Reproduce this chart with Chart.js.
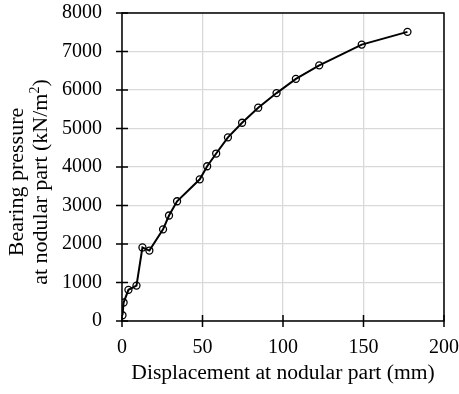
<!DOCTYPE html>
<html>
<head>
<meta charset="utf-8">
<script src="https://cdn.jsdelivr.net/npm/chart.js@4"></script>
<style>
  html, body { margin: 0; padding: 0; background: #fff; }
  #wrap { width: 459px; height: 394px; }
</style>
</head>
<body>
<div id="wrap"><canvas id="myChart" width="459" height="394"></canvas></div>
<script>
// displacement (mm) and bearing pressure (kN/m2)
const displacement = [0.3, 1, 4, 9, 12.7, 17, 25.5, 29.2, 34.2, 48.3, 52.9, 58.5, 65.8, 74.6, 84.6, 96, 108, 122.5, 148.9, 177.3];
const pressure = [150, 480, 810, 920, 1910, 1830, 2380, 2740, 3110, 3680, 4020, 4350, 4770, 5150, 5540, 5920, 6290, 6640, 7180, 7510];
const xTicks = [0, 50, 100, 150, 200];
const yTicks = [0, 1000, 2000, 3000, 4000, 5000, 6000, 7000, 8000];

const fontFamily = "'Liberation Serif', 'Times New Roman', serif";

const points = displacement.map((d, i) => ({x: d, y: pressure[i]}));

// box round the plot and ticks that cross the axes
const frame = {
  id: 'frame',
  afterDraw(chart) {
    const {ctx, chartArea: a, scales} = chart;
    ctx.save();
    ctx.strokeStyle = '#000';
    ctx.lineWidth = 1.5;
    ctx.strokeRect(a.left, a.top, a.right - a.left, a.bottom - a.top);
    ctx.beginPath();
    xTicks.forEach(v => {
      const px = scales.x.getPixelForValue(v);
      ctx.moveTo(px, a.bottom - 6);
      ctx.lineTo(px, a.bottom + 6);
    });
    yTicks.forEach(v => {
      const py = scales.y.getPixelForValue(v);
      ctx.moveTo(a.left - 6, py);
      ctx.lineTo(a.left + 6, py);
    });
    ctx.stroke();
    ctx.restore();
  }
};

// y axis title, two lines, with a real superscript 2
const yTitle = {
  id: 'yTitle',
  afterDraw(chart) {
    const ctx = chart.ctx;
    const cy = 182;
    ctx.save();
    ctx.fillStyle = '#000';
    ctx.textBaseline = 'alphabetic';
    ctx.font = '22px ' + fontFamily;

    // first line
    ctx.save();
    ctx.translate(23, cy);
    ctx.rotate(-Math.PI / 2);
    ctx.textAlign = 'center';
    ctx.fillText('Bearing pressure', 0, 0);
    ctx.restore();

    // second line
    const a = 'at nodular part (kN/m', b = '2', c = ')';
    ctx.save();
    ctx.translate(47, cy);
    ctx.rotate(-Math.PI / 2);
    ctx.textAlign = 'left';
    const wa = ctx.measureText(a).width;
    const wc = ctx.measureText(c).width;
    ctx.font = '14px ' + fontFamily;
    const wb = ctx.measureText(b).width;
    let x = -(wa + wb + wc) / 2;
    ctx.font = '22px ' + fontFamily;
    ctx.fillText(a, x, 0);
    x += wa;
    ctx.font = '14px ' + fontFamily;
    ctx.fillText(b, x, -8);
    x += wb;
    ctx.font = '22px ' + fontFamily;
    ctx.fillText(c, x, 0);
    ctx.restore();

    ctx.restore();
  }
};

const ctx = document.getElementById('myChart').getContext('2d');
new Chart(ctx, {
  type: 'scatter',
  data: {
    datasets: [{
      data: points,
      showLine: true,
      borderColor: '#000',
      borderWidth: 2,
      pointRadius: 3.5,
      pointBorderWidth: 1.3,
      pointBackgroundColor: 'rgba(255,255,255,0)',
      pointBorderColor: '#000'
    }]
  },
  options: {
    responsive: false,
    animation: false,
    layout: { padding: { top: 13, right: 15, left: 0, bottom: 0 } },
    plugins: { legend: { display: false }, tooltip: { enabled: false } },
    scales: {
      x: {
        min: 0, max: 200,
        afterFit(scale) {
          scale.height = 73;
          scale.paddingLeft = 0;
          scale.paddingRight = 0;
        },
        afterBuildTicks(scale) { scale.ticks = xTicks.map(v => ({value: v})); },
        grid: { color: '#d9d9d9', lineWidth: 1.3, drawTicks: false },
        border: { display: false },
        ticks: {
          color: '#000', padding: 15, maxRotation: 0,
          font: { family: fontFamily, size: 20 },
          callback: v => String(v)
        },
        title: {
          display: true,
          text: 'Displacement at nodular part (mm)',
          color: '#000',
          font: { family: fontFamily, size: 21.6, lineHeight: 1.1 },
          padding: { top: 0, bottom: 9 }
        }
      },
      y: {
        min: 0, max: 8000,
        afterFit(scale) {
          scale.width = 122;
          scale.paddingTop = 0;
          scale.paddingBottom = 0;
        },
        afterBuildTicks(scale) { scale.ticks = yTicks.map(v => ({value: v})); },
        grid: { color: '#d9d9d9', lineWidth: 1.3, drawTicks: false },
        border: { display: false },
        ticks: {
          color: '#000', padding: 20,
          font: { family: fontFamily, size: 20 },
          callback: v => String(v)
        }
      }
    }
  },
  plugins: [frame, yTitle]
});
</script>
</body>
</html>
